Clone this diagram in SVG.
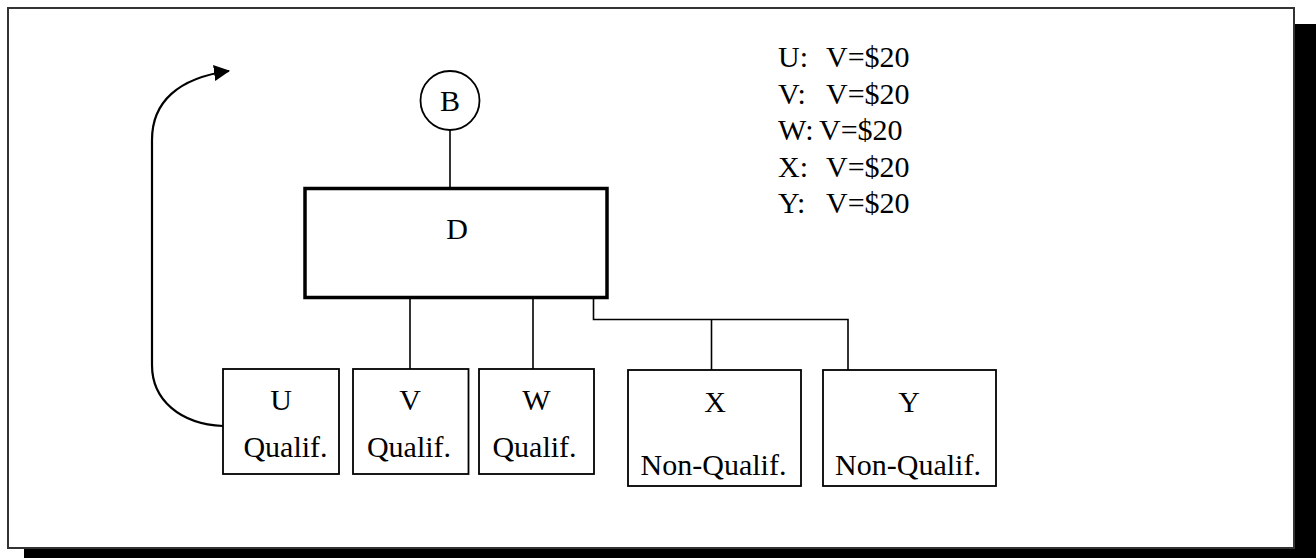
<svg xmlns="http://www.w3.org/2000/svg" width="1316" height="558" viewBox="0 0 1316 558">
<style>
text{font-family:"Liberation Serif","Times New Roman",serif;font-size:30px;fill:#000}
.c{text-anchor:middle}
.box{fill:#fff;stroke:#000;stroke-width:1.8}
.conn{fill:none;stroke:#000;stroke-width:1.6}
</style>
<defs>
<marker id="arr" markerUnits="userSpaceOnUse" viewBox="0 0 16 16" refX="15" refY="8" markerWidth="16" markerHeight="16" orient="auto">
<path d="M0,0 L16,8 L0,16 z" fill="#000"/>
</marker>
</defs>
<rect x="24" y="24" width="1292" height="534" fill="#000"/>
<rect x="8" y="8" width="1286" height="540" fill="#fff" stroke="#333" stroke-width="2"/>
<g id="connectors">
<line class="conn" x1="450" y1="130" x2="450" y2="188"/>
<line class="conn" x1="410" y1="298" x2="410" y2="369"/>
<line class="conn" x1="533" y1="298" x2="533" y2="369"/>
<polyline class="conn" points="593.5,298 593.5,319.5 848,319.5 848,370"/>
<line class="conn" x1="711.5" y1="319.5" x2="711.5" y2="370"/>
<path d="M223,426 C180,424 152,400 152,365 L152,140 C152,102 178,78 229,71" fill="none" stroke="#000" stroke-width="2.2" marker-end="url(#arr)"/>
</g>
<g id="node-B">
<circle cx="450" cy="100.5" r="29.5" class="box"/>
<text x="450" y="111" class="c">B</text>
</g>
<g id="node-D">
<rect x="305" y="188.5" width="302" height="109" fill="#fff" stroke="#000" stroke-width="3.5"/>
<text x="457" y="239" class="c">D</text>
</g>
<g id="node-U">
<rect x="223" y="369" width="116" height="105" class="box"/>
<text x="281" y="410" class="c">U</text>
<text x="285.5" y="457" class="c">Qualif.</text>
</g>
<g id="node-V">
<rect x="353" y="369" width="115.5" height="105" class="box"/>
<text x="410" y="410" class="c">V</text>
<text x="409" y="457" class="c">Qualif.</text>
</g>
<g id="node-W">
<rect x="479" y="369" width="115" height="105" class="box"/>
<text x="536.5" y="410" class="c">W</text>
<text x="534.5" y="457" class="c">Qualif.</text>
</g>
<g id="node-X">
<rect x="628" y="370" width="173" height="116" class="box"/>
<text x="715" y="412" class="c">X</text>
<text x="713.5" y="475" class="c">Non-Qualif.</text>
</g>
<g id="node-Y">
<rect x="823" y="370" width="173" height="116" class="box"/>
<text x="909" y="412" class="c">Y</text>
<text x="908" y="475" class="c">Non-Qualif.</text>
</g>
<g id="legend">
<text y="67"><tspan x="778">U:</tspan><tspan x="826">V=$20</tspan></text>
<text y="103.5"><tspan x="778">V:</tspan><tspan x="826">V=$20</tspan></text>
<text y="140"><tspan x="778">W:</tspan><tspan x="819">V=$20</tspan></text>
<text y="176.5"><tspan x="778">X:</tspan><tspan x="826">V=$20</tspan></text>
<text y="213"><tspan x="778">Y:</tspan><tspan x="826">V=$20</tspan></text>
</g>
</svg>
